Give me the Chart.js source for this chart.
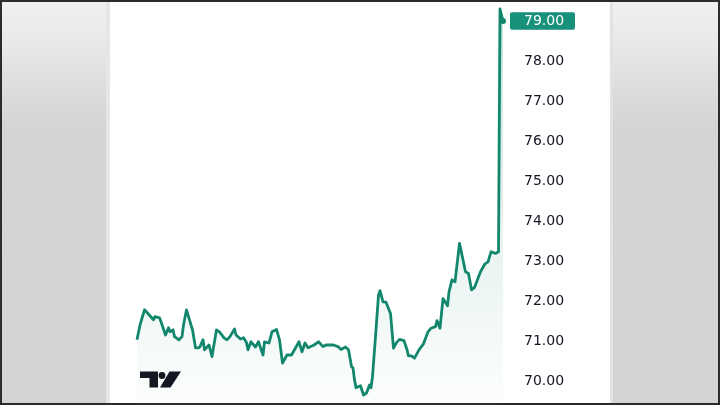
<!DOCTYPE html>
<html>
<head>
<meta charset="utf-8">
<script src="https://cdn.jsdelivr.net/npm/chart.js@4/dist/chart.umd.min.js"></script>
<style>
  html, body { margin: 0; padding: 0; }
  body { width: 720px; height: 405px; background: #2b2b2b; position: relative; overflow: hidden; }
  #frame { position: absolute; left: 2px; top: 2px; width: 716px; height: 401px;
    background: linear-gradient(to bottom, #efefef 0%, #ebebeb 8%, #dcdcdc 22%, #d4d4d4 32%, #d3d3d3 100%); }
  #lstrip { position: absolute; left: 106px; top: 2px; width: 4px; height: 401px; background: #e6e6e6; }
  #rstrip { position: absolute; left: 610px; top: 2px; width: 3px; height: 401px; background: #e2e2e2; }
  #panel { position: absolute; left: 110px; top: 2px; width: 500px; height: 401px; background: #ffffff; }
  #logo { position: absolute; left: 138px; top: 369px; }
</style>
</head>
<body>
<div id="frame"></div>
<div id="lstrip"></div>
<div id="rstrip"></div>
<div id="panel"><canvas id="c" width="500" height="401"></canvas></div>
<svg id="logo" width="46" height="20" viewBox="0 0 46 20">
  <path d="M2 2.5 H20 V18.5 H11.5 V9 H2 Z" fill="#131722"/>
  <circle cx="24" cy="6.5" r="3.4" fill="#131722"/>
  <path d="M31.5 2.5 H43 L32.5 18.5 H22 Z" fill="#131722"/>
</svg>
<script>
// trading-day index of each sample
const days = [0,2,5,7,11,12,15,16,19,21,22,24,25,28,30,31,33,35,37,39,41,42,44,45,48,50,53,55,58,60,62,65,66,69,71,73,74,76,79,81,84,85,88,90,93,95,97,100,103,105,108,110,112,114,118,121,124,126,131,134,136,139,141,143,144,145,146,149,151,153,155,156,157,159,161,162,164,166,169,171,173,175,178,180,181,183,185,188,191,194,196,199,200,202,204,207,208,210,212,215,219,221,223,225,229,232,234,236,239,241,242,244];
// price at each sample
const prices = [71.03,71.40,71.78,71.70,71.53,71.61,71.58,71.48,71.15,71.33,71.23,71.28,71.11,71.03,71.11,71.40,71.78,71.53,71.28,70.83,70.83,70.86,71.03,70.78,70.90,70.61,71.28,71.23,71.08,71.03,71.11,71.30,71.15,71.05,71.08,70.96,70.78,70.98,70.85,70.98,70.65,70.98,70.95,71.23,71.29,71.03,70.45,70.65,70.65,70.78,70.98,70.73,70.95,70.83,70.90,70.98,70.86,70.90,70.90,70.86,70.79,70.85,70.78,70.36,70.33,70.03,69.83,69.88,69.65,69.70,69.90,69.83,70.11,71.11,72.15,72.26,71.98,71.97,71.69,70.82,70.96,71.04,71.01,70.78,70.63,70.63,70.57,70.78,70.93,71.23,71.32,71.36,71.51,71.32,72.06,71.88,72.23,72.53,72.48,73.44,72.73,72.69,72.28,72.34,72.73,72.93,72.98,73.23,73.19,73.23,79.30,79.00];
// price-axis tick values
const yTicks = [70,71,72,73,74,75,76,77,78,79];
const lastPrice = prices[prices.length - 1];

const LINE = '#12876d';
const BOX = '#17917a';
const FONT = { family: 'DejaVu Sans', size: 14 };

const lastLabel = {
  id: 'lastLabel',
  afterDatasetsDraw(chart) {
    const y = chart.scales.y;
    const ctx = chart.ctx;
    const py = y.getPixelForValue(lastPrice);
    ctx.save();
    ctx.fillStyle = BOX;
    const bx = y.left + 7, bw = 65, bh = 17.5;
    ctx.beginPath();
    ctx.roundRect(bx, py - bh / 2, bw, bh, 2);
    ctx.fill();
    ctx.fillStyle = '#ffffff';
    ctx.font = FONT.size + 'px ' + FONT.family;
    ctx.textAlign = 'left';
    ctx.textBaseline = 'middle';
    ctx.fillText(lastPrice.toFixed(2), y.left + 21, py + 0.5);
    ctx.restore();
  }
};

new Chart(document.getElementById('c'), {
  type: 'line',
  data: {
    datasets: [{
      data: days.map((d, i) => ({ x: d, y: prices[i] })),
      borderColor: LINE,
      borderWidth: 2.8,
      tension: 0,
      borderJoinStyle: 'round',
      pointRadius: days.map((d, i) => i === days.length - 1 ? 3 : 0),
      pointHitRadius: 0,
      pointBackgroundColor: LINE,
      pointBorderWidth: 0,
      fill: 'start',
      backgroundColor(ctx) {
        const ca = ctx.chart.chartArea;
        if (!ca) return 'rgba(19,137,111,0.1)';
        const g = ctx.chart.ctx.createLinearGradient(0, ca.top, 0, ca.bottom);
        g.addColorStop(0, 'rgba(19,137,111,0.24)');
        g.addColorStop(0.55, 'rgba(19,137,111,0.11)');
        g.addColorStop(1, 'rgba(19,137,111,0.01)');
        return g;
      }
    }]
  },
  options: {
    responsive: false,
    animation: false,
    clip: false,
    layout: { autoPadding: false, padding: { left: 27, right: 0, top: 0, bottom: 0 } },
    plugins: { legend: { display: false }, tooltip: { enabled: false } },
    scales: {
      x: { type: 'linear', min: 0, max: 244, display: false },
      y: {
        position: 'right',
        min: 69.45, max: 79.475,
        afterBuildTicks(scale) { scale.ticks = yTicks.map(v => ({ value: v })); },
        afterFit(scale) { scale.width = 107; scale.paddingTop = 0; scale.paddingBottom = 0; },
        grid: { display: false, drawTicks: false },
        border: { display: false },
        ticks: {
          padding: 21,
          color: '#131722',
          font: FONT,
          callback: v => Number(v).toFixed(2)
        }
      }
    }
  },
  plugins: [lastLabel]
});
</script>
</body>
</html>
